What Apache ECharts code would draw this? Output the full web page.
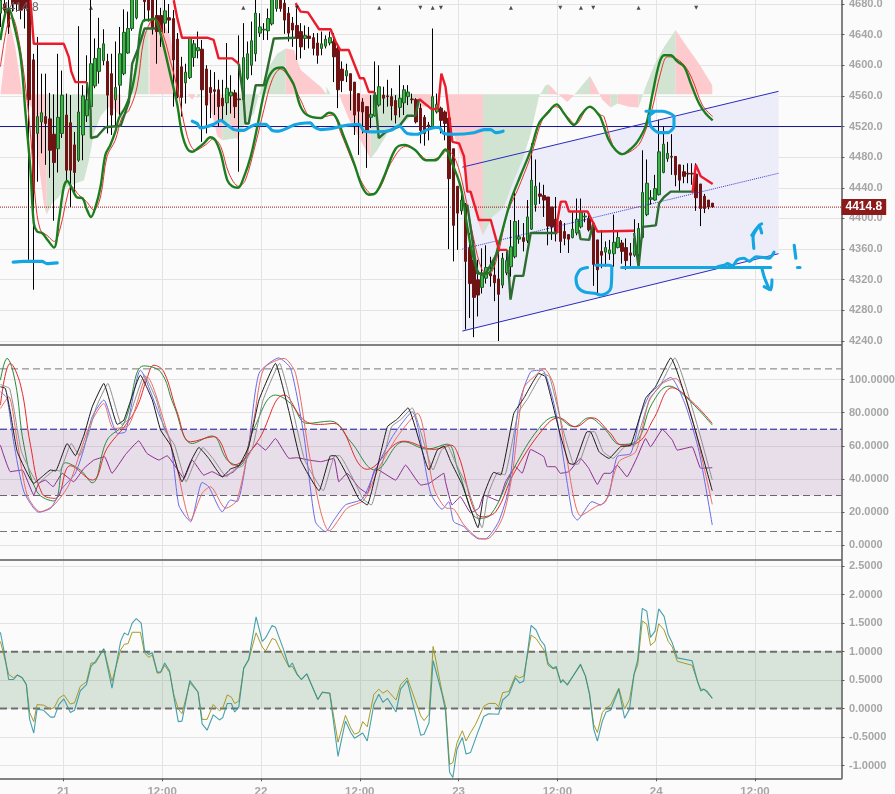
<!DOCTYPE html>
<html><head><meta charset="utf-8">
<script src="https://cdn.jsdelivr.net/npm/echarts@6/dist/echarts.min.js"></script>
<style>html,body{margin:0;padding:0;background:#fbfbfb}#c{width:895px;height:794px}</style>
</head><body><div id="c"></div>
<script>
// x values: half-hour bars counted from the first bar; xShift places them against the date ticks
const xShift = -15.29;
const xTickValues = [0,24,48,72,96,120,144,168];
const xTickLabels = ['21','12:00','22','12:00','23','12:00','24','12:00'];
const priceTicks = [4240,4280,4320,4360,4400,4440,4480,4520,4560,4600,4640,4680];
const oscTicks = [0,20,40,60,80,100];
const momTicks = [-1,-0.5,0,0.5,1,1.5,2,2.5];
// candles: open, close, low, high
const candles = [
[4668,4685,4650,4695],[4680,4672,4660,4695],[4672,4650,4641,4690],[4690,4680,4670,4700],[4695,4680,4670,4705],[4690,4672,4660,4700],[4695,4675,4648,4700],
[4690,4555,4346,4700],[4607,4433,4307,4615],[4511,4533,4448,4637],[4526,4538,4485,4589],[4533,4524,4470,4589],[4530,4489,4453,4564],[4510,4473,4397,4562],
[4491,4532,4460,4615],[4511,4561,4505,4593],[4535,4463,4450,4563],[4525,4463,4415,4561],[4496,4460,4433,4513],[4476,4539,4474,4651],[4509,4560,4476,4574],
[4534,4555,4526,4613],[4546,4602,4533,4690],[4573,4609,4570,4635],[4592,4622,4576,4662],[4606,4628,4600,4647],[4605,4561,4511,4615],[4589,4535,4509,4615],
[4555,4571,4520,4631],[4574,4615,4535,4650],[4589,4643,4587,4673],[4616,4648,4615,4670],[4648,4690,4645,4700],[4662,4695,4660,4705],[4695,4700,4690,4710],
[4688,4683,4657,4700],[4690,4672,4657,4700],[4690,4648,4640,4700],[4665,4644,4602,4690],[4665,4644,4624,4675],[4655,4671,4642,4690],[4662,4659,4642,4680],
[4661,4607,4546,4672],[4634,4559,4557,4642],[4598,4558,4533,4611],[4577,4591,4550,4602],[4584,4635,4582,4637],[4610,4628,4598,4633],[4619,4623,4609,4644],
[4621,4568,4500,4633],[4595,4548,4511,4600],[4571,4564,4531,4594],[4568,4566,4535,4591],[4568,4546,4520,4581],[4557,4547,4528,4581],[4551,4570,4535,4629],
[4560,4565,4537,4587],[4564,4546,4531,4568],[4556,4555,4461,4639],[4555,4610,4553,4655],[4583,4615,4581,4631],[4600,4632,4587,4657],[4615,4668,4605,4690],
[4642,4650,4637,4668],[4646,4647,4633,4655],[4645,4661,4633,4674],[4654,4690,4652,4700],[4674,4695,4670,4700],[4695,4674,4670,4700],[4681,4659,4641,4690],
[4668,4642,4631,4676],[4655,4646,4624,4663],[4652,4635,4607,4674],[4644,4624,4609,4655],[4635,4639,4620,4652],[4638,4635,4622,4650],[4636,4622,4613,4642],
[4629,4613,4602,4642],[4622,4628,4613,4644],[4625,4634,4622,4639],[4629,4636,4626,4644],[4631,4611,4578,4642],[4622,4568,4544,4628],[4595,4580,4565,4605],
[4586,4593,4578,4602],[4589,4567,4541,4589],[4578,4535,4509,4578],[4563,4540,4483,4563],[4552,4539,4511,4557],[4546,4515,4466,4546],[4532,4536,4518,4561],
[4534,4561,4533,4605],[4548,4572,4546,4600],[4561,4557,4537,4572],[4560,4559,4546,4581],[4559,4547,4528,4570],[4554,4535,4524,4561],[4545,4557,4532,4600],
[4551,4568,4535,4574],[4559,4565,4548,4574],[4556,4555,4550,4563],[4555,4526,4524,4557],[4544,4515,4498,4550],[4532,4511,4495,4535],[4522,4520,4502,4526],
[4520,4559,4518,4648],[4539,4549,4537,4563],[4544,4528,4511,4546],[4539,4524,4502,4541],[4531,4452,4360,4533],[4491,4391,4344,4491],[4442,4407,4359,4442],
[4410,4424,4405,4431],[4418,4344,4255,4420],[4361,4315,4270,4381],[4346,4297,4245,4372],[4320,4300,4272,4346],[4310,4326,4302,4361],[4322,4336,4315,4365],
[4328,4325,4311,4350],[4326,4316,4292,4350],[4321,4301,4240,4357],[4313,4348,4309,4355],[4329,4345,4326,4357],[4337,4363,4324,4398],[4350,4396,4348,4435],
[4373,4376,4367,4398],[4375,4370,4357,4394],[4371,4402,4368,4424],[4386,4450,4385,4498],[4418,4442,4409,4477],[4432,4429,4419,4447],[4430,4424,4402,4444],
[4428,4390,4365,4428],[4415,4389,4372,4415],[4399,4383,4370,4428],[4396,4370,4355,4398],[4383,4374,4365,4394],[4379,4373,4355,4379],[4375,4386,4374,4409],
[4381,4399,4378,4426],[4389,4408,4387,4426],[4402,4403,4395,4407],[4400,4385,4383,4405],[4394,4340,4312,4394],[4372,4333,4300,4372],[4357,4352,4335,4385],
[4356,4362,4337,4370],[4354,4359,4346,4372],[4354,4369,4337,4405],[4362,4375,4361,4383],[4368,4357,4341,4372],[4362,4345,4333,4374],[4355,4352,4337,4368],
[4352,4374,4350,4399],[4353,4387,4348,4394],[4375,4434,4374,4489],[4405,4446,4403,4477],[4425,4427,4418,4437],[4424,4439,4423,4457],[4431,4487,4430,4529],
[4460,4497,4459,4520],[4478,4485,4474,4500],[4481,4480,4457,4510],[4481,4457,4442,4481],[4470,4450,4436,4470],[4461,4455,4446,4470],[4459,4458,4446,4472],
[4459,4458,4444,4472],[4458,4427,4410,4472],[4445,4413,4390,4445],[4429,4413,4407,4432],[4424,4415,4412,4424],[4420,4415,4414,4420]];
const envelopeGreen = [[0,4633],[1.2,4668],[2,4674],[3.2,4655],[4.9,4611],[6.1,4537],[7.3,4463],[8.1,4394],[8.9,4383],[10.1,4381],[11.3,4373],[13,4362],[14.2,4398],[15.4,4441],[16.2,4449],[17.4,4439],[18.5,4428],[20,4426],[20.9,4413],[22,4402],[23.1,4415],[24.3,4441],[25.5,4483],[26.7,4496],[27.9,4513],[28.8,4531],[30.4,4546],[32,4570],[33.2,4607],[34,4646],[35,4659],[36,4659],[37.3,4661],[38.5,4648],[39.7,4624],[41.3,4587],[42.9,4550],[44.1,4511],[45.4,4491],[46.6,4487],[47.8,4491],[49.4,4498],[51,4506],[52.2,4502],[53.5,4485],[55.1,4450],[56.3,4442],[57.7,4440],[59.2,4455],[60.8,4481],[62.4,4520],[64,4563],[65.2,4585],[66.9,4596],[68.5,4597],[69.7,4589],[71.3,4574],[72.9,4546],[74.5,4535],[77.8,4531],[79.8,4538],[81.4,4533],[83.4,4507],[85.9,4472],[87.9,4441],[89.5,4431],[91.1,4433],[93.2,4455],[96,4491],[98.2,4496],[100.8,4489],[103.3,4476],[105.7,4476],[108.1,4490],[109.4,4476],[111.8,4441],[113.4,4389],[115,4346],[116.6,4328],[118.3,4328],[119.5,4337],[121.5,4376],[124,4424],[126.4,4457],[128.8,4489],[130.8,4524],[132.8,4537],[135.1,4549],[136.9,4537],[139.3,4522],[141,4535],[143.2,4546],[145.4,4535],[146.2,4526],[147.8,4502],[149.5,4489],[151.1,4484],[152.7,4489],[154.7,4500],[156.8,4522],[158.4,4563],[160,4602],[161.2,4613],[162.8,4613],[164.4,4605],[166.1,4598],[167.7,4576],[169.7,4550],[171.3,4537],[173,4528]];
const envelopeRed = [[0,4598],[1.6,4650],[2.8,4663],[4,4646],[5.7,4589],[7.3,4511],[8.5,4424],[9.7,4385],[11.3,4378],[13.1,4370],[14.6,4389],[16.2,4428],[17.2,4442],[19,4431],[20.9,4422],[22.7,4411],[24.3,4428],[25.9,4481],[27.9,4502],[29.6,4533],[31.2,4541],[33.2,4572],[34.8,4633],[36.5,4657],[37.7,4660],[39.7,4637],[41.3,4605],[42.9,4572],[45.4,4507],[47.4,4489],[49.8,4496],[51.8,4504],[53.5,4494],[55.5,4459],[57.9,4442],[59.5,4450],[62,4498],[64,4542],[66,4581],[68,4595],[70.5,4581],[72.9,4555],[75.3,4533],[77.8,4532],[80.6,4535],[82.6,4513],[85,4481],[87.9,4446],[90.3,4432],[92.3,4441],[94.8,4472],[98.4,4494],[100.8,4489],[104.1,4476],[106.9,4481],[108.5,4489],[110.6,4476],[112.6,4437],[115,4372],[117,4333],[118.7,4328],[120.7,4350],[123.1,4407],[125.6,4437],[128.8,4481],[132,4533],[134.9,4546],[137.7,4533],[139.7,4523],[143,4545],[145.8,4535],[146.6,4533],[148.7,4496],[151.1,4484],[153.5,4489],[155.5,4500],[158,4537],[160.4,4591],[162,4611],[163.6,4610],[166.1,4600],[168.1,4581],[170.5,4548],[173,4533]];
const trendRed = [
[[7.3,4685],[8.1,4628],[15.4,4628],[16.6,4611],[17.2,4592],[18.2,4578],[21,4578]],
[[42.1,4685],[42.9,4663],[44.1,4636],[50.2,4636],[51.8,4633],[53,4609],[56.3,4609],[57.9,4602]],
[[71.7,4681],[72.9,4670],[74.7,4669],[77.4,4647],[80.2,4647],[81.4,4631],[82.5,4620],[84.6,4620],[87.3,4583],[88.3,4583],[89.5,4565],[90.9,4565]],
[[101.7,4556],[104.9,4542],[106.3,4544],[107.1,4589],[108.1,4572],[109,4533],[109.8,4500],[111.4,4498],[112.6,4481],[113.4,4435],[114.2,4435],[116.2,4398],[119.1,4398],[121.1,4359],[123.1,4359]],
[[135.3,4381],[135.3,4398],[136.1,4422],[137.3,4422],[138.1,4409],[142.6,4409],[144,4394],[145,4383],[153.9,4384]],
[[168.1,4433],[168.9,4470],[170.1,4455],[173,4445]]];
const trendGreen = [
[[21,4578],[21.9,4541],[22,4505],[23.5,4507],[25.5,4519],[29.2,4521],[31.2,4552],[32,4602],[33.6,4624],[35,4648],[37.7,4648]],
[[57.9,4602],[59.1,4555],[59.5,4524],[60.3,4524],[62,4574],[64,4574],[66.4,4635],[71.7,4636]],
[[90.9,4565],[91.9,4505],[93.6,4513],[96.8,4520],[98.8,4534],[100.8,4534],[101.7,4556]],
[[113.4,4418],[115.8,4328],[117.9,4328],[121.1,4359]],
[[123.1,4359],[123.9,4294],[124.9,4325],[127,4325],[128.8,4381],[135.3,4381]],
[[140.5,4385],[140.9,4373],[143,4372],[144,4394]],
[[153.9,4381],[155,4337],[156,4389],[159.2,4391],[160,4420],[161.2,4428],[162.8,4435],[168.1,4435]]];
const cloudBase = 4562;
const cloudPink = [
[[0,4562],[0.6,4589],[1.6,4637],[2.3,4655],[3.6,4624],[5.3,4562],[8.1,4541],[9.3,4472],[10.5,4420],[11.2,4405]],
[[25.9,4544],[27.1,4546],[29.2,4533]],
[[36.2,4659],[38.9,4663],[41.3,4637],[42.5,4598],[43.3,4562]],
[[45.4,4562],[46.6,4555],[47.4,4562]],
[[50.1,4562],[51.4,4537],[52.7,4507],[53.9,4502]],
[[55.9,4520],[57.7,4502]],
[[69.3,4622],[71.3,4620],[72.9,4594],[75.3,4583],[77.8,4572],[79.2,4562]],
[[82.2,4562],[85.1,4524],[87.9,4498],[89.9,4478]],
[[100.4,4546],[104.9,4546]],
[[105,4562],[108.1,4562],[108.9,4533],[111,4494],[112.6,4468],[114.2,4428],[115.8,4398],[117.2,4378]],
[[133.2,4575],[135.3,4563],[137.7,4552],[139.3,4561]],
[[143.2,4586],[144.6,4572],[146.2,4555],[148.2,4545]],
[[149.9,4550],[152.7,4546],[155,4545]],
[[164,4646],[166.5,4626],[169.7,4602],[172.9,4574]]];
const cloudGreen = [
[[11.2,4405],[12.6,4420],[14.2,4428],[15.4,4439],[17.4,4444],[20.3,4450],[21.5,4476],[22.7,4511],[24.3,4533],[25.9,4544]],
[[30.8,4562],[32.4,4589],[34,4635],[36,4650]],
[[47.8,4557],[48.8,4562]],
[[53.9,4502],[57.7,4505],[59.5,4524],[61.6,4537],[62.8,4562],[64.8,4594],[67.2,4615],[69.3,4622]],
[[79.2,4572],[80.2,4562]],
[[89.9,4478],[91.5,4489],[94,4511],[97.2,4520],[100,4535],[102.1,4546],[103.7,4562]],
[[117.2,4378],[119.5,4402],[122.3,4415],[124.7,4450],[126.8,4476],[128.8,4511],[130.8,4559],[132.4,4574],[133.2,4575]],
[[139.3,4561],[141.3,4574],[143.2,4586]],
[[148.2,4545],[149.9,4550]],
[[155,4545],[156.7,4572],[158.8,4600],[161.2,4624],[164,4646]]];
// channel: x, lower, middle, upper
const channelStart = [112.2,4253,4360,4467];
const channelEnd = [189,4354,4459,4566];
const levelLine = 4520;
const lastPrice = 4414.8;
const markerY = 4675;
const markersUp = [22,59,92,105,124,141,155];
const markersDown = [72,102,107,136,144,169];
const handDrawn = [
[[3.1,4343],[5.7,4344],[10.1,4344],[11.3,4341],[13.8,4342]],
[[46.6,4527],[47.8,4524],[48.6,4518],[50.2,4520],[51.8,4523],[53.5,4528],[55.1,4522],[56.7,4516],[59.1,4515],[60.8,4520],[62.4,4523],[64.4,4523],[66,4515],[67.6,4514],[69.7,4518],[71.3,4522],[72.9,4524],[75.3,4525],[76.1,4520],[77.8,4516],[80.2,4517],[83.4,4521],[87.1,4523],[88.3,4514],[91.5,4513],[94.8,4515],[96.8,4521],[98.8,4511],[101.3,4510],[103.7,4516],[106.5,4519],[107.7,4511],[110.2,4510],[115,4512],[117.5,4516],[119.1,4516],[120.3,4512],[122.1,4514]],
[[142.6,4336],[140.8,4333],[139.8,4322],[140.3,4310],[141.9,4304],[144.6,4302],[145.8,4300],[147.4,4303],[148.3,4310],[148.5,4337],[147.8,4339],[144.6,4339]],
[[150.9,4336],[187.1,4336]],
[[174.2,4337],[175.8,4339],[176.6,4341],[177.8,4338],[179,4346],[180.6,4348],[181.9,4344],[183.5,4350],[185.5,4349],[186.7,4348],[187.9,4356]],
[[183,4361],[182.8,4376],[184.3,4391],[184.9,4393]],
[[182.5,4378],[184.3,4390],[184.9,4381]],
[[184.9,4336],[185.5,4324],[186.7,4308]],
[[185.5,4311],[187.1,4307],[187.4,4320]],
[[192.8,4365],[193.2,4348]],
[[193.6,4336],[194.2,4336]],
[[156.8,4540],[160.8,4540],[163.6,4533],[163.6,4520],[162,4512],[160,4512],[158,4520],[157.6,4533],[158.8,4539]]];
// oscillator panel
const oscLevels = [8.3,30,70,106.4];
const oscBlack = [[0,95.6],[1.2,94.6],[2.4,80.5],[4.1,56.4],[8.1,37.3],[10.1,41.3],[12.2,45.4],[13.4,44.8],[16.2,61.4],[18.2,54],[20.3,66.5],[22.3,83.5],[25.1,97.6],[28.4,72.9],[30,75.5],[34,102.6],[36.9,87.6],[38.9,69.5],[41.3,60.4],[44.1,38.3],[46.2,50.4],[48.2,59],[50.6,52.4],[53.9,41.3],[55.9,46],[57.9,48],[60.3,59.4],[62.8,87.6],[66.8,109.7],[70.1,80.5],[72.9,51.4],[77.4,32.9],[80.2,54],[81.4,54],[84.2,42.3],[87.1,27.9],[89.1,24.3],[91.5,46.4],[94,71.5],[96.4,76.1],[99,82.9],[104.1,45.4],[106.1,57.4],[107.7,59.8],[109.4,50.4],[112.2,36.3],[116,10.6],[117.4,30.3],[119.8,44],[121.5,42.4],[124.7,79.5],[127.1,88.6],[130.8,103.6],[132.4,101.6],[136,66.5],[138.1,49.4],[139.3,48.8],[142.5,68.5],[143.3,68.5],[145.4,56.4],[147.8,52.4],[150.6,59.4],[153.1,60.4],[156.7,88.6],[159.1,95.6],[162.8,113],[172.9,32.9]];
const oscGray = [[0,97],[2.2,94.6],[3.4,80.5],[5.1,56.4],[9.1,37.3],[11.1,41.3],[13.2,45.4],[14.4,44.8],[17.2,61.4],[19.2,54],[21.3,66.5],[23.3,83.5],[26.1,97.6],[29.4,72.9],[31,75.5],[35,102.6],[37.9,87.6],[39.9,69.5],[42.3,60.4],[45.1,38.3],[47.2,50.4],[49.2,59],[51.6,52.4],[54.9,41.3],[56.9,46],[58.9,48],[61.3,59.4],[63.8,87.6],[67.8,109.7],[71.1,80.5],[73.9,51.4],[78.4,32.9],[81.2,54],[82.4,54],[85.2,42.3],[88.1,27.9],[90.1,24.3],[92.5,46.4],[95,71.5],[97.4,76.1],[100,82.9],[105.1,45.4],[107.1,57.4],[108.7,59.8],[110.4,50.4],[113.2,36.3],[117,10.6],[118.4,30.3],[120.8,44],[122.5,42.4],[125.7,79.5],[128.1,88.6],[131.8,103.6],[133.4,101.6],[137,66.5],[139.1,49.4],[140.3,48.8],[143.5,68.5],[144.3,68.5],[146.4,56.4],[148.8,52.4],[151.6,59.4],[154.1,60.4],[157.7,88.6],[160.1,95.6],[163.8,113],[172.9,39.3]];
const oscBlue = [[0,92.6],[1.6,88.6],[3.2,62.4],[5.7,32.3],[9.3,19.9],[12.2,22.3],[15,34.3],[18.2,43.4],[20.3,58.4],[22.3,77.5],[25.1,87.6],[28.4,67.5],[30.4,68.5],[34,105.6],[38.9,76.5],[41.3,62.4],[43.3,24.3],[45,17.2],[46.2,14.2],[49,37.9],[50.6,35.3],[53.9,20.2],[55.9,27.3],[57.5,26.3],[60.3,60.4],[62.8,103.6],[67.6,113],[70.5,106.6],[73.7,66.5],[76.5,14.2],[79,8.2],[81,15.2],[83.8,24.3],[87.9,27.9],[91.1,45.4],[95.2,65.5],[100,80.5],[104.5,31.3],[107.3,21.7],[108.9,26.3],[110.1,14.2],[112.6,11.2],[114.2,7.2],[116.2,3.8],[117.8,3.8],[121,14.2],[123.5,34.3],[125.9,84.5],[128.8,104.6],[131.6,105.6],[134.8,81.5],[138.9,19.2],[140.1,15.2],[143.7,26.3],[145.8,24.3],[147.8,30.3],[149.8,53.4],[153.1,55.4],[155.5,78.5],[157.9,91.6],[162.8,101.2],[166.4,84.5],[169.7,56.4],[172.9,12.2]];
const oscSalmon = [[0,82.5],[2,89.6],[4.1,62.4],[6.5,30.3],[9.7,20.2],[13,24.3],[16.6,36.3],[19.4,56.4],[21.9,73.5],[25.1,85.5],[27.5,70.5],[31.2,72.5],[35.6,101.6],[40.5,68.5],[42.9,46.4],[46.2,15.2],[49,31.3],[51,35.3],[54.7,22.3],[57.5,27.3],[61.6,76.5],[64,106.6],[68.9,112.7],[71.7,103.6],[74.9,56.4],[77.8,20.2],[79.8,8.6],[84.2,22.3],[88.3,27.3],[91.9,46.4],[96.4,65.5],[101.3,79.5],[105.3,34.3],[108.5,22.3],[109.7,22.3],[112.6,12.2],[115.8,4.6],[118.2,3.8],[121.9,16.2],[124.3,42.4],[127.1,94.6],[130,102.6],[132,106.6],[134.4,96.6],[137.7,50.4],[140.9,17.8],[144.6,23.3],[147,26.3],[150.2,50.4],[154.3,56.4],[157.5,86.5],[160.8,97.6],[164,100.6],[168,76.5],[172.9,24.7]];
const oscGreen = [[0,99.6],[1.6,112.7],[3.6,98.6],[5.7,60.4],[8.9,32.3],[13,26.7],[15.8,49.8],[19.4,45.4],[22.3,37.7],[25.9,63.4],[30,73.5],[34.8,108.2],[38.9,104.6],[42.1,84.5],[46.6,61.4],[51.4,65.9],[55.1,51.4],[57.9,48],[61.6,70.5],[66.8,90.6],[70.5,85.5],[74.5,73.5],[80.2,74.9],[85.1,62.4],[91.1,45.4],[98,62.4],[103.7,58],[108.5,61],[111.3,44.4],[116.2,16.2],[119,18.2],[124.7,46.4],[130.8,70.5],[134.8,77.5],[139.3,71.5],[142.9,76.9],[146.6,70.5],[150.6,60.8],[154.3,62.4],[158.3,85.5],[162.4,96],[166.4,89.6],[172.9,72.5]];
const oscRed = [[0,84.5],[2.4,109.7],[4.9,96.6],[7.3,60.4],[10.1,31.3],[13.4,28.3],[17,48],[22.3,39.3],[25.9,58.4],[30.4,72.5],[33.2,83.5],[35.6,100.6],[37.3,108.6],[39.7,104.6],[42.9,80.5],[46.2,62.4],[51.8,65.5],[56.7,48.4],[62.4,62.4],[68.9,90.6],[73.7,75.5],[77.8,72.9],[81,73.5],[89.1,45.8],[98,62.8],[105.3,57.8],[109.4,60.4],[110.9,56.4],[117,17.2],[120.3,20.2],[124.7,43.4],[131.6,69.5],[135.6,76.9],[139.7,71.5],[143.7,76.9],[147.8,68.5],[151,60.4],[155.1,62.4],[158.7,76.5],[163.2,95],[168,86.6],[172.9,73.5]];
const oscPurple = [[0,60.4],[2.4,44.4],[5.3,45.4],[8.1,30.3],[9.3,37.3],[10.9,39.3],[12.8,35.3],[15,43.4],[17.8,38.3],[20.3,46.4],[22.7,51.4],[25.3,53.4],[27.1,43.4],[30.4,54.8],[33.6,63],[35.6,55.4],[38.5,51.4],[40.5,54],[44.6,40.3],[46.6,51.4],[49.4,42.3],[51.4,44.4],[53.9,41.3],[56.7,44.4],[59.1,51.4],[62.4,61.4],[64.4,57.4],[66.8,64.4],[70.1,52.4],[72.1,52.8],[74.9,51.4],[77.8,50.4],[81,52.4],[82.2,38.3],[84.2,43.4],[87.1,34.7],[89.1,31.3],[91.1,46.4],[96,39.3],[98.4,48.4],[102.1,36.3],[104.1,37.3],[107.7,43.4],[108.1,38.3],[109.7,24.3],[111.7,29.3],[114.2,19.6],[116.2,22.3],[117.4,30.3],[121,26.7],[122.7,38.3],[125.1,47.4],[126.7,43.4],[128.8,57.8],[132,53.4],[132.8,47.4],[134.8,47.4],[136,43.4],[138.1,44.4],[140.9,52.4],[142.9,46.4],[145,36.7],[146.6,43.4],[148.2,43.4],[149.8,48.4],[152.2,41.3],[154.7,53.4],[156.7,64.4],[157.9,59.4],[160.8,69.9],[163.2,63.4],[164.4,57.4],[168,59.4],[170.1,46.4],[172.9,46.8]];
// momentum panel
const momLevels = [0,1];
const momTeal = [[0,1.34],[0.8,1.04],[2,0.51],[3.2,0.51],[4.1,0.59],[5.3,0.54],[6.3,0.42],[7.1,-0.19],[8.1,-0.43],[8.9,-0.01],[10.5,-0.03],[12.2,-0.15],[13.1,-0.15],[14.2,0.07],[15.4,0.17],[17,-0.07],[18,-0.03],[19.4,0.31],[20.9,0.42],[22,0.74],[23.1,0.83],[25.1,1.05],[27.1,0.36],[29.2,1.18],[30.1,1.33],[31,1.29],[32,1.5],[33,1.58],[34.2,1.5],[35,1.02],[36,0.95],[36.9,0.98],[38.1,0.64],[38.9,0.64],[39.9,0.8],[41.1,0.66],[42.1,0.22],[43.2,-0.23],[44.1,-0.22],[46,0.49],[48,0.29],[49,-0.27],[50.2,-0.38],[51.7,-0.11],[53.2,-0.2],[54,-0.16],[55.1,0.09],[56.1,0.09],[56.9,-0.06],[57.9,0.03],[59.1,0.71],[60.3,0.86],[62.1,1.61],[63.6,1.18],[64.4,1.24],[66,1.46],[66.8,1.43],[68.9,1.01],[70.1,0.73],[70.9,0.8],[72.1,0.6],[73.1,0.51],[74.4,0.61],[77.1,0.16],[78.2,0.29],[80,0.27],[82,-0.84],[83.8,-0.22],[85.1,-0.42],[86,-0.52],[88,-0.43],[89.1,-0.57],[90.7,0.07],[91.9,0.25],[92.9,0.11],[94,0.18],[96.1,-0.06],[97.2,0.34],[98.8,0.49],[102.1,-0.47],[102.9,-0.45],[104.1,-0.25],[105.1,0.84],[107.3,0.25],[108.1,-0.04],[109.1,-1.12],[109.9,-1.21],[110.9,-0.71],[112.2,-0.51],[113.1,-0.8],[114.2,-0.77],[115.8,-0.45],[117.4,-0.14],[118.6,-0.09],[121,-0.1],[122,0.15],[123.5,0.25],[125.1,0.54],[126.1,0.45],[127.1,0.48],[128.9,1.46],[130.1,1.38],[131.2,1.2],[132.2,1.11],[133,0.8],[134.2,0.71],[135,0.74],[136.1,0.45],[136.6,0.51],[137.7,0.41],[140.9,0.78],[142.1,0.57],[143.1,0.25],[144.1,-0.36],[145,-0.57],[146.2,-0.22],[147.1,-0.06],[148.2,-0.03],[150.2,0.34],[151.6,-0.17],[152.8,-0.01],[153.9,0.6],[154.8,0.86],[155.9,1.76],[157,1.71],[157.9,1.25],[159,1.36],[159.9,1.75],[161.2,1.62],[162.2,1.3],[163.2,1.15],[164.4,0.89],[168,0.84],[169.3,0.48],[170.1,0.31],[170.9,0.34],[171.7,0.3],[172.9,0.18]];
const momOlive = [[0,1.18],[2,0.6],[3.2,0.54],[4.1,0.59],[5.3,0.54],[6.3,0.42],[7.1,-0.07],[8.1,-0.23],[8.9,0.07],[10.5,0.06],[12.2,-0.01],[13.1,0.02],[14.2,0.18],[15.4,0.24],[17,0.08],[18,0.1],[19.4,0.39],[20.9,0.47],[22,0.8],[23.1,0.8],[25.1,1.05],[27.1,0.48],[29.2,1.03],[30.1,1.13],[31,1.14],[32,1.34],[34,1.34],[35,0.98],[36,0.9],[36.9,0.94],[38.1,0.62],[38.9,0.63],[39.9,0.76],[41.1,0.63],[42.1,0.25],[43.2,-0.01],[44.1,-0.09],[46,0.45],[48,0.29],[49,-0.19],[50.2,-0.19],[51.7,0.07],[53.2,-0.04],[54,0.01],[55.1,0.24],[56.1,0.2],[56.9,0.09],[57.9,0.13],[59.1,0.71],[60.3,0.86],[62.1,1.33],[63.6,1.08],[64.4,1.01],[66,1.23],[66.8,1.21],[68.9,0.89],[70.1,0.73],[70.9,0.74],[72.1,0.59],[73.1,0.51],[74.4,0.61],[77.1,0.16],[78.2,0.28],[80,0.27],[82,-0.59],[83.8,-0.12],[85.1,-0.34],[86,-0.45],[87.1,-0.42],[88,-0.23],[89.1,-0.32],[90.7,0.25],[91.9,0.34],[92.9,0.27],[94,0.32],[96.1,0.15],[97.2,0.42],[98.8,0.54],[102.1,-0.13],[102.9,-0.21],[104.1,-0.1],[105.1,1.09],[107.3,0.28],[108.1,0.05],[109.1,-0.98],[109.9,-0.95],[110.9,-0.6],[112.2,-0.39],[113.1,-0.57],[114.2,-0.42],[115.4,-0.28],[117.4,0.04],[118.6,0.09],[120.3,0.09],[121,0.03],[122,0.28],[123.5,0.3],[125.1,0.58],[126.1,0.54],[127.1,0.57],[128.9,1.29],[130.1,1.23],[132.2,1.01],[133,0.76],[134.2,0.7],[135,0.71],[136.1,0.47],[136.6,0.49],[137.7,0.43],[140.9,0.76],[142.1,0.57],[143.1,0.25],[144.1,-0.28],[145,-0.42],[146.2,-0.07],[147.1,0.01],[148.2,0.06],[150.2,0.36],[151.6,-0.01],[152.8,0.16],[153.9,0.6],[154.8,0.77],[155.9,1.54],[157,1.48],[157.9,1.11],[159,1.18],[159.9,1.49],[161.2,1.38],[162.2,1.18],[163.2,1.08],[164.4,0.83],[168,0.76],[169.3,0.48],[170.1,0.34],[170.9,0.34],[172.9,0.18]];

const X = j => j + xShift;
const pts = a => a.map(([j, v]) => [X(j), v]);
const segs = list => { const out = []; list.forEach((s, i) => { if (i) out.push([X(s[0][0]), null]); out.push(...pts(s)); }); return out; };
const axisGray = '#5a5a5a', gridGray = '#e3e3e3', labelGray = '#a6a6a6';
const gridBox = [{top:0,height:345},{top:346,height:214},{top:561,height:217.3}];
const xMin = -15.39, xMax = 189;
const xAxes = gridBox.map((g, i) => ({
  type:'value', gridIndex:i, min:xMin, max:xMax, position:'bottom',
  splitLine:{show:true,lineStyle:{color:gridGray,width:1}},
  axisLine:{show:true,onZero:false,lineStyle:{color:axisGray,width:1.5}},
  axisTick:{show:i===2,length:3,customValues:xTickValues,lineStyle:{color:axisGray}},
  axisLabel:{show:i===2,customValues:xTickValues,margin:8,color:labelGray,fontFamily:'Liberation Sans',fontWeight:'bold',fontSize:11.5,
    formatter:v=>xTickLabels[xTickValues.indexOf(v)] ?? ''}
}));
const yAxis = (i,min,max,ticks,dec) => ({
  type:'value', gridIndex:i, position:'right', min, max, scale:true,
  splitLine:{show:true,lineStyle:{color:gridGray,width:1}},
  axisLine:{show:true,onZero:false,lineStyle:{color:axisGray,width:1.5}},
  axisTick:{show:true,length:3,customValues:ticks,lineStyle:{color:axisGray}},
  axisLabel:{show:true,customValues:ticks,margin:7.5,padding:[2,0,0,0],color:labelGray,fontFamily:'Liberation Sans',fontWeight:'bold',fontSize:11,align:'left',
    showMinLabel:true,showMaxLabel:true,formatter:v=>v.toFixed(dec)}
});
const line = (name,data,color,width,z,extra) => Object.assign({
  type:'line',name,data,xAxisIndex:0,yAxisIndex:0,showSymbol:false,symbol:'none',z,animation:false,silent:true,
  connectNulls:false,clip:true,lineStyle:{color,width},emphasis:{disabled:true}},extra||{});
const level = (name,v,color,width,type,z,axes) => line(name,[[xMin,v],[xMax,v]],color,width,z,Object.assign({lineStyle:{color,width,type}},axes||{}));

const series = [];
// channel polygon
series.push({type:'custom',xAxisIndex:0,yAxisIndex:0,z:1,silent:true,animation:false,clip:true,
  data:[[X(channelStart[0]),channelStart[1],channelStart[3],X(channelEnd[0]),channelEnd[1],channelEnd[3]]],
  renderItem:(p,api)=>({type:'polygon',shape:{points:[
    api.coord([api.value(0),api.value(1)]),api.coord([api.value(3),api.value(4)]),
    api.coord([api.value(3),api.value(5)]),api.coord([api.value(0),api.value(2)])]},
    style:{fill:'#ecedf9'}}),
  encode:{x:[0,3],y:[1,2,4,5]}});
// clouds
series.push(line('cloudGreen',segs(cloudGreen),'rgba(0,0,0,0)',0,2,{areaStyle:{color:'#cde3cf',origin:cloudBase,opacity:0.95}}));
series.push(line('cloudPink',segs(cloudPink),'rgba(0,0,0,0)',0,2,{areaStyle:{color:'#fdc8cb',origin:cloudBase,opacity:0.95}}));
// horizontal levels
series.push(level('level',levelLine,'#12128f',1,'solid',3));
series.push(level('last',lastPrice,'#9c1414',1,'dotted',3,{
  markLine:{silent:true,animation:false,symbol:'none',data:[{yAxis:lastPrice,lineStyle:{color:'rgba(0,0,0,0)',width:0},
     label:{show:true,position:'end',distance:0,formatter:lastPrice.toFixed(1),color:'#fff',backgroundColor:'#8b1a1a',padding:[2,4],fontWeight:'bold',fontSize:12,fontFamily:'Liberation Sans'}}]}}));
// wicks and bodies
const candleX = candles.map((c,i)=>[X(i),c[0],c[1],c[2],c[3]]);
series.push({type:'candlestick',xAxisIndex:0,yAxisIndex:0,z:3,barWidth:1,silent:true,animation:false,clip:true,
  data:candleX,encode:{x:0,y:[1,2,3,4]},
  itemStyle:{color:'#000',color0:'#000',borderColor:'#000',borderColor0:'#000',borderWidth:1}});
series.push({type:'candlestick',xAxisIndex:0,yAxisIndex:0,z:4,barWidth:3,silent:true,animation:false,clip:true,
  data:candleX.map(([x,o,c])=>[x,o,c,Math.min(o,c),Math.max(o,c)]),encode:{x:0,y:[1,2,3,4]},
  itemStyle:{color:'#3cb548',color0:'#6e1414',borderColor:'#1f5f25',borderColor0:'#6e1414',borderWidth:1}});
// channel edges
series.push(line('chUp',pts([[channelStart[0],channelStart[3]],[channelEnd[0],channelEnd[3]]]),'#2a2ac0',1,5));
series.push(line('chLow',pts([[channelStart[0],channelStart[1]],[channelEnd[0],channelEnd[1]]]),'#2a2ac0',1,5));
series.push(line('chMid',pts([[channelStart[0],channelStart[2]],[channelEnd[0],channelEnd[2]]]),'#3a3ad0',1,5,{lineStyle:{color:'#3a3ad0',width:1,type:'dotted'}}));
// indicator lines
series.push(line('envRed',pts(envelopeRed),'#e8302f',1,6,{smooth:0.35}));
series.push(line('envGreen',pts(envelopeGreen),'#1c7d1f',2.4,6,{smooth:0.35}));
series.push(line('trendGreen',segs(trendGreen),'#2d6b30',2.4,6));
series.push(line('trendRed',segs(trendRed),'#ec1c2c',2.4,7));
// markers
series.push({type:'scatter',xAxisIndex:0,yAxisIndex:0,z:8,symbol:'triangle',symbolSize:4,silent:true,animation:false,itemStyle:{color:'#222'},data:markersUp.map(j=>[X(j),markerY])});
series.push({type:'scatter',xAxisIndex:0,yAxisIndex:0,z:8,symbol:'triangle',symbolRotate:180,symbolSize:4,silent:true,animation:false,itemStyle:{color:'#222'},data:markersDown.map(j=>[X(j),markerY])});
// hand-drawn strokes
handDrawn.forEach((h,i)=>series.push(line('hand'+i,pts(h),'#14a5e3',3.1,9,{smooth:0.25,lineStyle:{color:'#14a5e3',width:3.1,cap:'round',join:'round'}})));
// oscillator panel
const a2 = {xAxisIndex:1,yAxisIndex:1};
series.push(line('oscBand',[],'#000',0,1,Object.assign({},a2,{
  markArea:{silent:true,animation:false,itemStyle:{color:'rgba(126,60,140,0.15)'},data:[[{yAxis:30},{yAxis:70}]]}})));
series.push(level('osc0',oscLevels[0],'#777',1,[7,4],3,a2));
series.push(level('osc1',oscLevels[1],'#666',1,[7,4],3,a2));
series.push(level('osc2',oscLevels[2],'#12128f',1,[7,3],3,a2));
series.push(level('osc3',oscLevels[3],'#777',1,[7,4],3,a2));
series.push(line('oscPurple',pts(oscPurple),'#8b2a8f',1,5,Object.assign({smooth:0.1},a2)));
series.push(line('oscGreen',pts(oscGreen),'#2a8a3a',1,5,Object.assign({smooth:0.4},a2)));
series.push(line('oscRed',pts(oscRed),'#e32a2a',1,5,Object.assign({smooth:0.4},a2)));
series.push(line('oscBlue',pts(oscBlue),'#6a6ae6',1,5,Object.assign({smooth:0.2},a2)));
series.push(line('oscSalmon',pts(oscSalmon),'#ec6a62',1,5,Object.assign({smooth:0.25},a2)));
series.push(line('oscGray',pts(oscGray),'#8f8f8f',1,5,Object.assign({smooth:0.12},a2)));
series.push(line('oscBlack',pts(oscBlack),'#1a1a1a',1,6,Object.assign({smooth:0.12},a2)));
// momentum panel
const a3 = {xAxisIndex:2,yAxisIndex:2};
series.push(line('momBand',[],'#000',0,1,Object.assign({},a3,{
  markArea:{silent:true,animation:false,itemStyle:{color:'rgba(70,130,80,0.19)'},data:[[{yAxis:0},{yAxis:1}]]}})));
series.push(level('mom0',momLevels[0],'#6e6e6e',2,[7,4],3,a3));
series.push(level('mom1',momLevels[1],'#6e6e6e',2,[7,4],3,a3));
series.push(line('momOlive',pts(momOlive),'#a59a28',1,5,a3));
series.push(line('momTeal',pts(momTeal),'#27909e',1.1,6,Object.assign({},a3,{lineStyle:{color:'#27909e',width:1.1,opacity:0.85}})));

const chart = echarts.init(document.getElementById('c'),null,{renderer:'canvas'});
chart.setOption({
  animation:false, backgroundColor:'#fbfbfb',
  title:{text:lastPrice.toFixed(1),left:2,top:2,padding:0,z:12,textStyle:{color:'#6e5f5f',fontSize:12,fontWeight:'normal',fontFamily:'Liberation Sans'}},
  tooltip:{show:false},legend:{show:false},
  grid:gridBox.map(g=>({left:0,right:53.5,top:g.top,height:g.height,containLabel:false,outerBoundsMode:'none'})),
  xAxis:xAxes,
  yAxis:[yAxis(0,4234.8,4685.2,priceTicks,1),yAxis(1,-8.9,120.2,oscTicks,4),yAxis(2,-1.225,2.592,momTicks,4)],
  series
});
</script></body></html>
